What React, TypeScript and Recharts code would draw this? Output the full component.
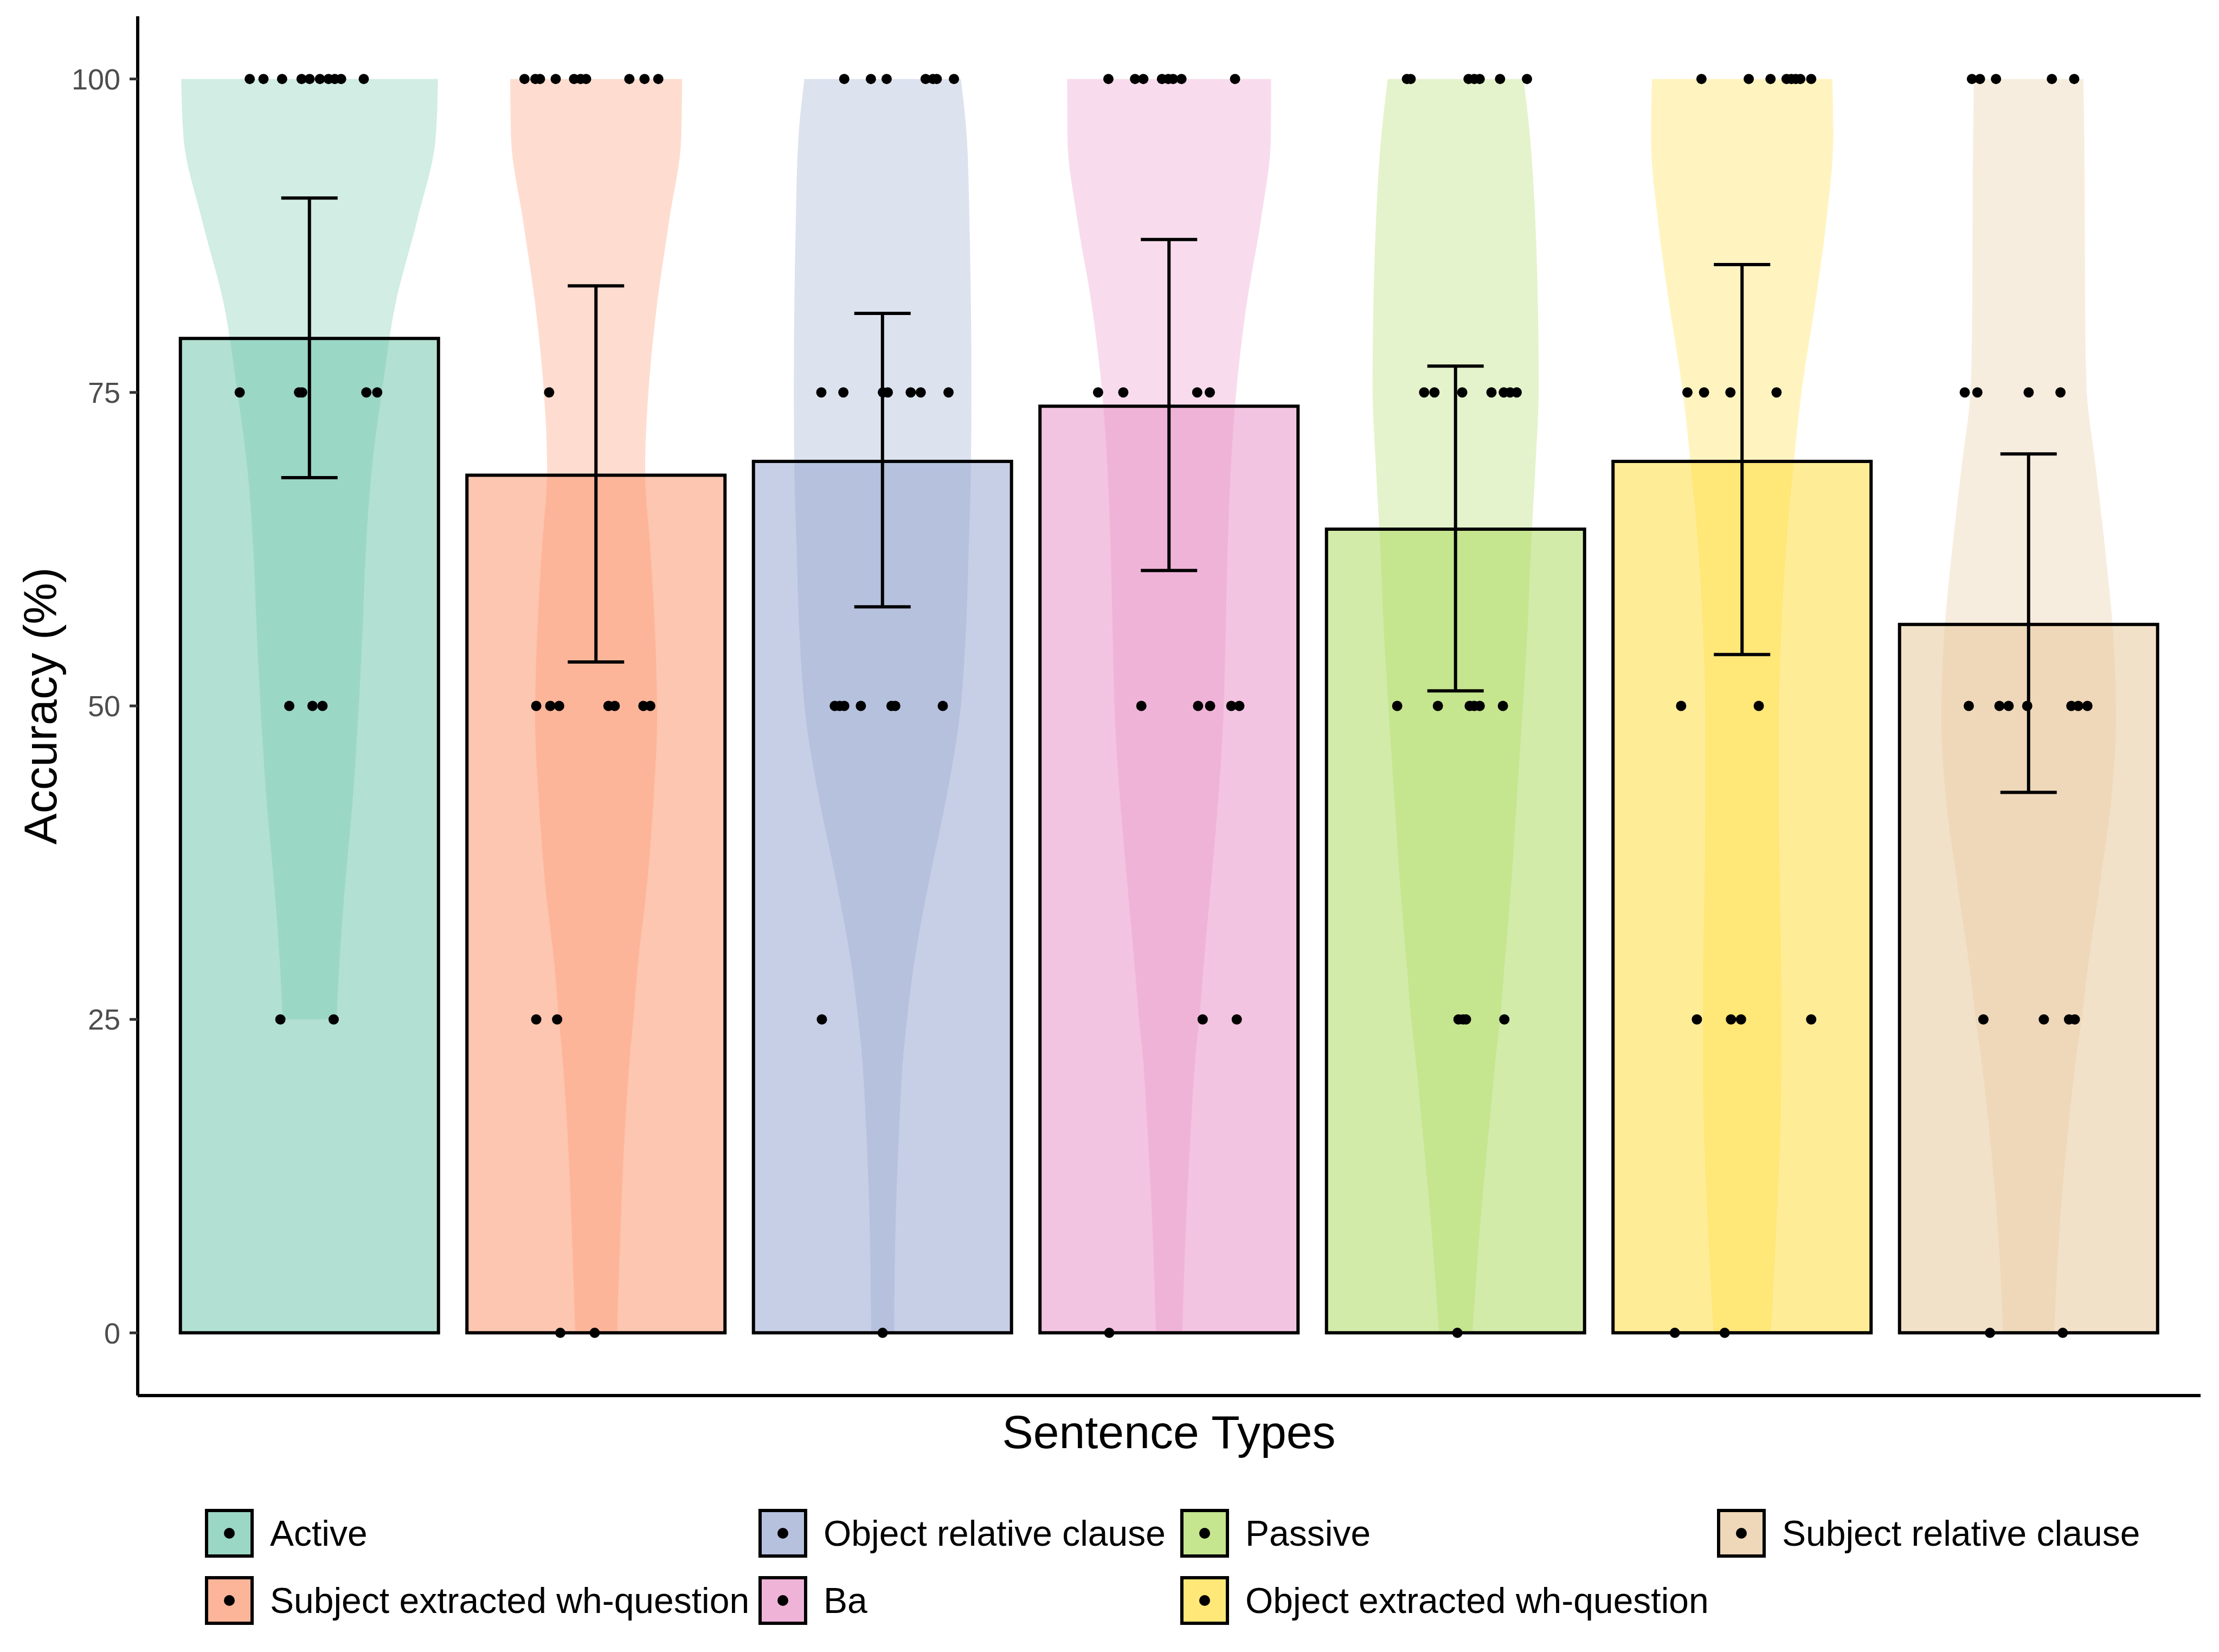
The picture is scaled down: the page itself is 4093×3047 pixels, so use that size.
import {
  Area,
  Bar,
  Cell,
  ComposedChart,
  ErrorBar,
  Scatter,
  XAxis,
  YAxis,
} from "recharts";

const categories = [
  "Active",
  "Subject extracted wh-question",
  "Object relative clause",
  "Ba",
  "Passive",
  "Object extracted wh-question",
  "Subject relative clause",
];
const colors = ["#66C2A5", "#FC8D62", "#8DA0CB", "#E78AC3", "#A6D854", "#FFD92F", "#E5C494"];

const means = [79.3, 68.4, 69.5, 73.9, 64.1, 69.5, 56.5];
const errLow = [68.2, 53.5, 57.9, 60.8, 51.2, 54.1, 43.1];
const errHigh = [90.5, 83.5, 81.3, 87.2, 77.1, 85.2, 70.1];
const yTicks = [0, 25, 50, 75, 100];

// jittered points: [accuracy, horizontal offset from group centre]
const activeDots = [
  [100, -0.209], [100, -0.161], [100, -0.096], [100, -0.028], [100, 0.0], [100, 0.036],
  [100, 0.066], [100, 0.088], [100, 0.11], [100, 0.189],
  [75, -0.244], [75, -0.037], [75, -0.026], [75, 0.198], [75, 0.236],
  [50, -0.071], [50, 0.01], [50, 0.045],
  [25, -0.102], [25, 0.084],
];
const subjWhDots = [
  [100, -0.25], [100, -0.212], [100, -0.196], [100, -0.141], [100, -0.077], [100, -0.054],
  [100, -0.035], [100, 0.116], [100, 0.169], [100, 0.217],
  [75, -0.164],
  [50, -0.209], [50, -0.16], [50, -0.129], [50, 0.043], [50, 0.065], [50, 0.165], [50, 0.189],
  [25, -0.209], [25, -0.136],
  [0, -0.125], [0, -0.005],
];
const objRelDots = [
  [100, -0.134], [100, -0.041], [100, 0.014], [100, 0.15], [100, 0.176], [100, 0.189], [100, 0.249],
  [75, -0.214], [75, -0.137], [75, 0.001], [75, 0.018], [75, 0.098], [75, 0.133], [75, 0.23],
  [50, -0.167], [50, -0.15], [50, -0.134], [50, -0.076], [50, 0.031], [50, 0.044], [50, 0.21],
  [25, -0.212],
  [0, 0.0],
];
const baDots = [
  [100, -0.212], [100, -0.119], [100, -0.09], [100, -0.025], [100, -0.003], [100, 0.014],
  [100, 0.043], [100, 0.23],
  [75, -0.248], [75, -0.16], [75, 0.098], [75, 0.142],
  [50, -0.097], [50, 0.101], [50, 0.143], [50, 0.217], [50, 0.245],
  [25, 0.117], [25, 0.236],
  [0, -0.209],
];
const passiveDots = [
  [100, -0.17], [100, -0.157], [100, 0.045], [100, 0.065], [100, 0.084], [100, 0.155], [100, 0.249],
  [75, -0.11], [75, -0.074], [75, 0.023], [75, 0.125], [75, 0.168], [75, 0.19], [75, 0.213],
  [50, -0.204], [50, -0.062], [50, 0.049], [50, 0.065], [50, 0.084], [50, 0.165],
  [25, 0.01], [25, 0.026], [25, 0.036], [25, 0.17],
  [0, 0.006],
];
const objWhDots = [
  [100, -0.142], [100, 0.023], [100, 0.099], [100, 0.155], [100, 0.172], [100, 0.187],
  [100, 0.203], [100, 0.241],
  [75, -0.191], [75, -0.133], [75, -0.041], [75, 0.12],
  [50, -0.213], [50, 0.058],
  [25, -0.158], [25, -0.039], [25, -0.004], [25, 0.241],
  [0, -0.235], [0, -0.061],
];
const subjRelDots = [
  [100, -0.198], [100, -0.17], [100, -0.114], [100, 0.081], [100, 0.159],
  [75, -0.223], [75, -0.179], [75, 0.0], [75, 0.111],
  [50, -0.209], [50, -0.102], [50, -0.07], [50, -0.005], [50, 0.149], [50, 0.173], [50, 0.205],
  [25, -0.158], [25, 0.053], [25, 0.141], [25, 0.161],
  [0, -0.135], [0, 0.119],
];
const dotsByGroup = [activeDots, subjWhDots, objRelDots, baDots, passiveDots, objWhDots, subjRelDots];

// violin half-widths (x units) at each accuracy level
const violinLevels = [100, 95.3, 88.7, 82.1, 75.5, 68.9, 62.3, 55.7, 49, 42.4, 35.8, 29.2, 25, 22.6, 16, 9.3, 0];
const activeViolin = [0.448, 0.44, 0.375, 0.3, 0.255, 0.217, 0.196, 0.184, 0.169, 0.15, 0.124, 0.103, 0.094, null, null, null, null];
const subjWhViolin = [0.3, 0.297, 0.255, 0.213, 0.184, 0.171, 0.19, 0.206, 0.213, 0.2, 0.178, 0.145, 0.13, 0.12, 0.1, 0.087, 0.073];
const objRelViolin = [0.273, 0.294, 0.303, 0.308, 0.31, 0.308, 0.3, 0.29, 0.268, 0.22, 0.16, 0.108, 0.085, 0.074, 0.057, 0.046, 0.04];
const baViolin = [0.356, 0.355, 0.32, 0.271, 0.236, 0.215, 0.204, 0.197, 0.189, 0.171, 0.146, 0.12, 0.105, 0.094, 0.075, 0.06, 0.046];
const passiveViolin = [0.237, 0.26, 0.278, 0.287, 0.29, 0.278, 0.262, 0.25, 0.232, 0.213, 0.194, 0.17, 0.155, 0.143, 0.115, 0.088, 0.058];
const objWhViolin = [0.315, 0.318, 0.294, 0.255, 0.21, 0.178, 0.152, 0.136, 0.128, 0.128, 0.131, 0.136, 0.137, 0.137, 0.133, 0.121, 0.1];
const subjRelViolin = [0.191, 0.194, 0.196, 0.197, 0.202, 0.235, 0.268, 0.295, 0.305, 0.288, 0.249, 0.207, 0.185, 0.17, 0.137, 0.111, 0.089];
const violins = [activeViolin, subjWhViolin, objRelViolin, baViolin, passiveViolin, objWhViolin, subjRelViolin];

// legend is filled column-wise, two rows
const legendColumns = [[0, 1], [2, 3], [4, 5], [6]];

const barRows = categories.map((name, i) => ({
  name,
  x: i + 1,
  y: means[i],
  err: [means[i] - errLow[i], errHigh[i] - means[i]],
}));

const dotRows = dotsByGroup.flatMap((pts, i) =>
  pts.map(([v, j]) => ({ x: i + 1 + j, y: v }))
);

const violinRows = violins.map((widths, i) =>
  violinLevels
    .map((v, k) => (widths[k] == null ? null : { v, range: [i + 1 - widths[k], i + 1 + widths[k]] }))
    .filter(Boolean)
);

const FONT = "'Liberation Sans', Arial, Helvetica, sans-serif";
const W = 4093;
const H = 3047;
const CH = 2600;
const MARGIN = { top: 30, right: 34, left: 0, bottom: 0 };
// discrete axis expansion of 0.6 band on each side: (3805 - 7 * 528.5) / 2
const BAND_PAD = 52.75;

const Dot = (props: any) => <circle cx={props.cx} cy={props.cy} r={9.5} fill="#000" />;

function LegendKey({ color }: { color: string }) {
  return (
    <svg width={90} height={90} style={{ display: "block" }}>
      <rect x={3} y={3} width={84} height={84} fill={color} fillOpacity={0.3} />
      <rect x={3} y={3} width={84} height={84} fill={color} fillOpacity={0.5} stroke="#000" strokeWidth={6} />
      <circle cx={45} cy={45} r={10} fill="#000" />
    </svg>
  );
}

const layer = { position: "absolute" as const, left: 0, top: 0 };

export default function App() {
  const colX = [378, 1399, 2177, 3167];
  const rowY = [2783, 2907];
  return (
    <div
      style={{
        position: "absolute",
        left: 0,
        top: 0,
        width: W,
        height: H,
        background: "#fff",
        fontFamily: FONT,
        overflow: "hidden",
      }}
    >
      {/* violins */}
      <div style={layer}>
        <ComposedChart layout="vertical" width={W} height={CH} margin={MARGIN}>
          <XAxis type="number" domain={[0.4, 7.6]} allowDataOverflow height={26} tick={false} tickLine={false} axisLine={false} />
          <YAxis type="number" dataKey="v" domain={[-5, 105]} reversed allowDataOverflow width={254} tick={false} tickLine={false} axisLine={false} />
          {violinRows.map((rows, i) => (
            <Area
              key={categories[i]}
              data={rows as any[]}
              dataKey="range"
              type="monotone"
              fill={colors[i]}
              fillOpacity={0.3}
              stroke="none"
              isAnimationActive={false}
            />
          ))}
        </ComposedChart>
      </div>

      {/* bars and error bars */}
      <div style={layer}>
        <ComposedChart width={W} height={CH} data={barRows} margin={MARGIN}>
          <XAxis
            type="category"
            dataKey="name"
            padding={{ left: BAND_PAD, right: BAND_PAD }}
            height={26}
            tick={false}
            tickLine={false}
            axisLine={false}
          />
          <YAxis type="number" domain={[-5, 105]} allowDataOverflow width={254} tick={false} tickLine={false} axisLine={false} />
          <Bar dataKey="y" barSize={476} stroke="#000" strokeWidth={6} isAnimationActive={false}>
            {barRows.map((r, i) => (
              <Cell key={r.name} fill={colors[i]} fillOpacity={0.5} />
            ))}
            <ErrorBar dataKey="err" direction="y" width={52} stroke="#000" strokeWidth={6} />
          </Bar>
        </ComposedChart>
      </div>

      {/* points and axes */}
      <div style={layer}>
        <ComposedChart width={W} height={CH} margin={MARGIN}>
          <XAxis
            type="number"
            dataKey="x"
            domain={[0.4, 7.6]}
            allowDataOverflow
            height={26}
            tick={false}
            tickLine={false}
            axisLine={{ stroke: "#000", strokeWidth: 6 }}
          />
          <YAxis
            type="number"
            dataKey="y"
            domain={[-5, 105]}
            ticks={yTicks}
            allowDataOverflow
            width={254}
            tickSize={15}
            tickMargin={17}
            tick={{ fill: "#4d4d4d", fontSize: 54, fontFamily: FONT }}
            tickLine={{ stroke: "#333", strokeWidth: 5 }}
            axisLine={{ stroke: "#000", strokeWidth: 6 }}
          />
          <Scatter data={dotRows} dataKey="y" shape={Dot} isAnimationActive={false} />
        </ComposedChart>
      </div>

      <svg width={W} height={H} style={{ ...layer, pointerEvents: "none" }}>
        <text
          x={104}
          y={1302}
          transform="rotate(-90 104 1302)"
          textAnchor="middle"
          fontSize={86}
          fontFamily={FONT}
          fill="#000"
        >
          Accuracy (%)
        </text>
        <text x={2156} y={2671} textAnchor="middle" fontSize={86} fontFamily={FONT} fill="#000">
          Sentence Types
        </text>
      </svg>

      {legendColumns.map((col, c) =>
        col.map((idx, r) => (
          <div
            key={categories[idx]}
            style={{
              position: "absolute",
              left: colX[c],
              top: rowY[r],
              height: 90,
              display: "flex",
              alignItems: "center",
              whiteSpace: "nowrap",
            }}
          >
            <LegendKey color={colors[idx]} />
            <span style={{ marginLeft: 30, fontSize: 66, color: "#000", fontFamily: FONT }}>
              {categories[idx]}
            </span>
          </div>
        ))
      )}
    </div>
  );
}
